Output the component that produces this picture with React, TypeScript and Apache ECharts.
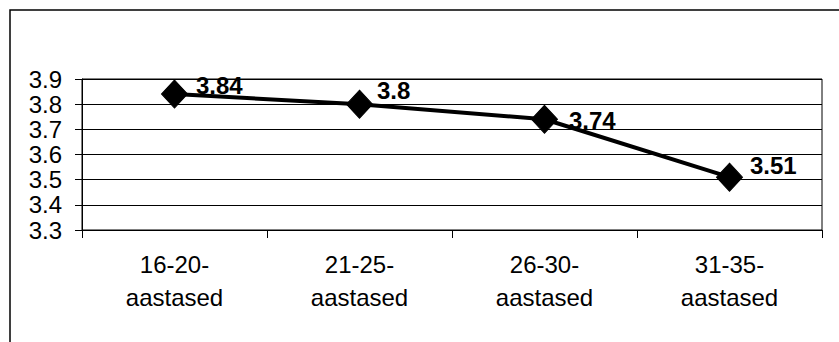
import React, { useEffect, useRef } from "react";
import * as echarts from "echarts";

const categories = ["16-20-\naastased", "21-25-\naastased", "26-30-\naastased", "31-35-\naastased"];
const values = [3.84, 3.8, 3.74, 3.51];
const yMin = 3.3;
const yMax = 3.9;
const yStep = 0.1;

// label placement (layout only)
const labelOffsets = [
  [8, -9],
  [4, -14],
  [11, 1],
  [7, -12],
];

const FONT = "'Liberation Sans', Arial, sans-serif";

export default function App() {
  const ref = useRef<HTMLDivElement>(null);
  useEffect(() => {
    document.body.style.margin = "0";
    if (!ref.current) return;
    const chart = echarts.init(ref.current, null, { renderer: "svg" });
    chart.setOption({
      animation: false,
      backgroundColor: "#fff",
      grid: {
        left: 82,
        right: 17,
        top: 79,
        bottom: 112,
        containLabel: false,
        outerBoundsMode: "none",
        show: true,
        borderColor: "#000",
        borderWidth: 1,
        backgroundColor: "transparent",
      },
      xAxis: {
        type: "category",
        data: categories,
        boundaryGap: true,
        axisLine: { show: true, lineStyle: { color: "#000", width: 1 } },
        axisTick: { show: true, length: 8, alignWithLabel: false, lineStyle: { color: "#000" } },
        axisLabel: {
          color: "#000",
          fontFamily: FONT,
          fontSize: 24,
          lineHeight: 33,
          margin: 18,
          interval: 0,
        },
        splitLine: { show: false },
      },
      yAxis: {
        type: "value",
        min: yMin,
        max: yMax,
        interval: yStep,
        axisLine: { show: true, lineStyle: { color: "#000", width: 1 } },
        axisTick: { show: true, length: 7, lineStyle: { color: "#000" } },
        axisLabel: {
          color: "#000",
          fontFamily: FONT,
          fontSize: 24,
          margin: 20,
          formatter: (v: number) => v.toFixed(1),
        },
        splitLine: { show: true, lineStyle: { color: "#000", width: 1 } },
      },
      graphic: [
        {
          type: "rect",
          silent: true,
          z: 100,
          shape: { x: 10, y: 10, width: 1000, height: 600 },
          style: { fill: "none", stroke: "#000", lineWidth: 1.5 },
        },
      ],
      series: [
        {
          type: "line",
          data: values.map((v, i) => ({
            value: v,
            label: { offset: labelOffsets[i] },
          })),
          symbol: "diamond",
          symbolSize: [26, 28],
          showAllSymbol: true,
          lineStyle: { color: "#000", width: 4 },
          itemStyle: { color: "#000", borderColor: "#000" },
          label: {
            show: true,
            position: "right",
            distance: 0,
            align: "left",
            verticalAlign: "middle",
            color: "#000",
            fontFamily: FONT,
            fontSize: 24,
            fontWeight: "bold",
            formatter: (p: any) => String(p.value),
          },
          emphasis: { disabled: true },
        },
      ],
    });
    return () => chart.dispose();
  }, []);
  return <div ref={ref} style={{ width: 839, height: 342 }} />;
}
